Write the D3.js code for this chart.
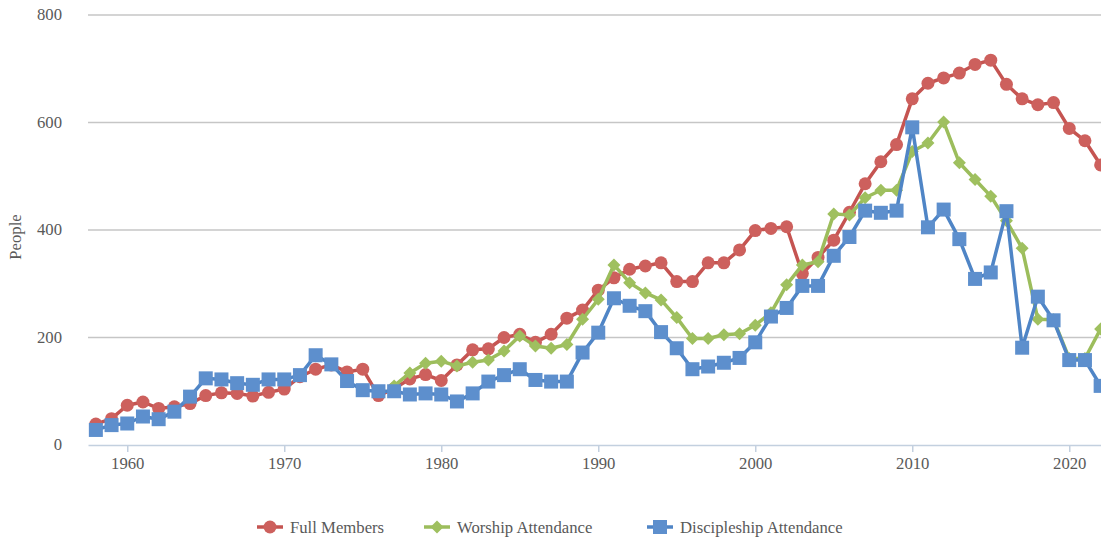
<!DOCTYPE html>
<html>
<head>
<meta charset="utf-8">
<script src="https://cdn.jsdelivr.net/npm/d3@7"></script>
<style>
  body { margin: 0; background: #fff; }
  svg { display: block; font-family: "Liberation Serif", "Times New Roman", serif; }
</style>
</head>
<body>
<script>
// years 1958..2022
var years = [1958,1959,1960,1961,1962,1963,1964,1965,1966,1967,1968,1969,1970,1971,1972,1973,1974,1975,1976,1977,
             1978,1979,1980,1981,1982,1983,1984,1985,1986,1987,1988,1989,1990,1991,1992,1993,1994,1995,1996,1997,
             1998,1999,2000,2001,2002,2003,2004,2005,2006,2007,2008,2009,2010,2011,2012,2013,2014,2015,2016,2017,
             2018,2019,2020,2021,2022];

var fullMembers = [39,49,74,80,68,71,77,92,97,96,91,98,104,127,141,149,136,141,92,105,
                   123,131,120,149,177,179,200,206,191,206,236,251,288,311,327,333,339,304,304,339,
                   339,363,399,403,406,319,349,381,433,486,527,559,644,673,683,692,708,716,671,644,
                   633,637,589,566,521];

// worship attendance starts in 1977
var worship = [null,null,null,null,null,null,null,null,null,null,null,null,null,null,null,null,null,null,null,110,
               134,152,156,147,154,158,175,203,184,180,187,234,271,335,302,283,270,237,198,198,
               205,207,223,246,298,335,341,430,428,460,474,474,546,562,601,525,494,463,417,366,
               234,233,161,161,216];

var discipleship = [28,37,40,53,48,62,90,124,122,115,112,122,122,130,167,150,119,102,100,100,
                    94,96,94,81,96,118,130,141,121,118,118,172,209,273,259,249,210,180,141,146,
                    153,162,191,239,255,296,296,352,387,436,432,436,591,405,438,383,309,321,435,181,
                    276,232,158,158,110];

var yTicks = [0,200,400,600,800];
var xTicks = [1960,1970,1980,1990,2000,2010,2020];

var W = 1101, H = 541;
var FS = 16.7;
var svg = d3.select("body").append("svg").attr("width", W).attr("height", H);

var x = d3.scaleLinear().domain([1957.5, 2022.5]).range([88, 1108.5]);
var y = d3.scaleLinear().domain([0, 800]).range([445, 15]);

// gridlines + y labels
svg.selectAll(".grid").data(yTicks.filter(function(d){ return d > 0; }))
  .enter().append("line")
  .attr("x1", 88).attr("x2", W)
  .attr("y1", function(d){ return y(d); }).attr("y2", function(d){ return y(d); })
  .attr("stroke", "#c6c6c6").attr("stroke-width", 1.3);

svg.selectAll(".ylab").data(yTicks)
  .enter().append("text")
  .attr("x", 62).attr("y", function(d){ return y(d); })
  .attr("dy", "0.3em")
  .attr("text-anchor", "end")
  .attr("font-size", FS).attr("fill", "#595959")
  .text(function(d){ return d; });

// x axis
var xAxis = d3.axisBottom(x).tickValues(xTicks).tickFormat(d3.format("d")).tickSize(7).tickSizeOuter(0);
var gx = svg.append("g").attr("transform", "translate(0,445)").call(xAxis);
gx.attr("font-family", null).attr("font-size", null);
gx.select(".domain").attr("stroke", "#c3d0df").attr("stroke-width", 1.5);
gx.selectAll(".tick line").attr("stroke", "#c3d0df").attr("stroke-width", 1.5);
gx.selectAll(".tick text").attr("font-size", FS).attr("fill", "#595959").attr("y", 12);

svg.append("text")
  .attr("transform", "translate(21,237) rotate(-90)")
  .attr("text-anchor", "middle")
  .attr("font-size", FS).attr("fill", "#595959")
  .text("People");

var series = [
  { name: "Full Members", values: fullMembers, line: "#c55451", fill: "#cd605d", shape: "circle" },
  { name: "Worship Attendance", values: worship, line: "#9cbd5c", fill: "#9fc05f", shape: "diamond" },
  { name: "Discipleship Attendance", values: discipleship, line: "#4f85c6", fill: "#5d8fcd", shape: "square" }
];

var line = d3.line()
  .defined(function(d){ return d.v != null; })
  .x(function(d){ return x(d.year); })
  .y(function(d){ return y(d.v); });

function marker(sel, shape, fill) {
  if (shape === "circle") {
    sel.append("circle").attr("r", 6.5).attr("fill", fill);
  } else if (shape === "square") {
    sel.append("rect").attr("x", -7).attr("y", -7).attr("width", 14).attr("height", 14).attr("fill", fill);
  } else {
    sel.append("path").attr("d", "M0,-6.5L6.5,0L0,6.5L-6.5,0Z").attr("fill", fill);
  }
}

series.forEach(function(s) {
  var pts = years.map(function(yr, i){ return { year: yr, v: s.values[i] }; });
  svg.append("path")
    .attr("fill", "none")
    .attr("stroke", s.line)
    .attr("stroke-width", 3.5)
    .attr("stroke-linejoin", "round")
    .attr("d", line(pts));
  var g = svg.append("g").selectAll("g")
    .data(pts.filter(function(d){ return d.v != null; }))
    .enter().append("g")
    .attr("transform", function(d){ return "translate(" + x(d.year) + "," + y(d.v) + ")"; });
  marker(g, s.shape, s.fill);
});

// legend
var legendX = [270, 437, 660];
var leg = svg.selectAll(".leg").data(series).enter().append("g")
  .attr("transform", function(d, i){ return "translate(" + legendX[i] + ",527)"; });
leg.append("line").attr("x1", -13).attr("x2", 13)
  .attr("stroke", function(d){ return d.line; }).attr("stroke-width", 3.5);
leg.each(function(d){ marker(d3.select(this), d.shape, d.fill); });
leg.append("text").attr("x", 20).attr("dy", "0.33em")
  .attr("font-size", FS).attr("fill", "#595959")
  .text(function(d){ return d.name; });
</script>
</body>
</html>
